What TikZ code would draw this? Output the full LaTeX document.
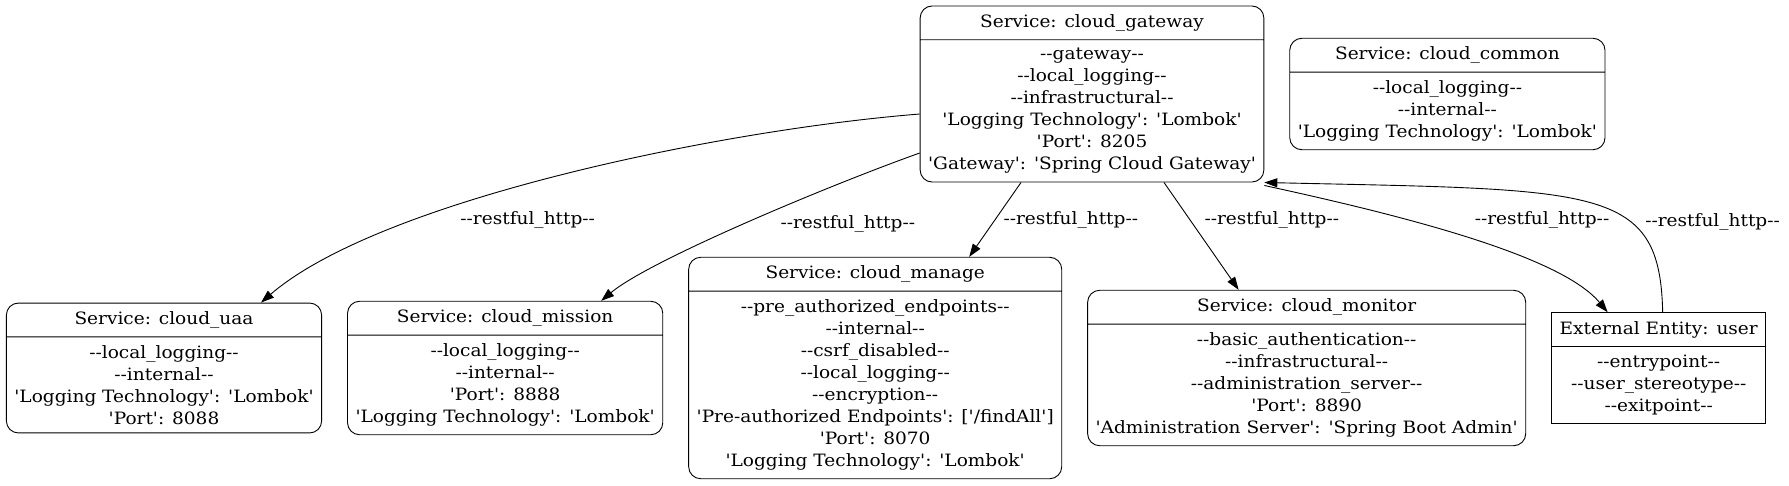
\documentclass[tikz,border=0pt]{standalone}
\usepackage{fontspec}
\setmainfont{DejaVu Serif}[Ligatures=TeXOff, FakeStretch=1.09]
\usepackage{tikz}
\usetikzlibrary{positioning}
\usetikzlibrary{arrows.meta}
\usetikzlibrary{shapes.multipart}

\begin{document}
\begin{tikzpicture}[
		x=1pt, y=-1pt,
		node distance=25pt,
		font=\fontsize{17}{22}\selectfont,
		service/.style={rectangle split, rectangle split parts=2, draw, align=center, rounded corners=12pt, inner xsep=8pt, inner ysep=8pt, line width=0.9pt},
		entity/.style={rectangle split, rectangle split parts=2, draw, align=center, inner xsep=8pt, inner ysep=8pt, line width=0.9pt},
		flow/.style={-{Triangle[length=13pt,width=9pt]}, line width=0.9pt},
		lbl/.style={inner sep=0pt}
		]
		
		\useasboundingbox (0,0) rectangle (1789,485);
		
		% Gateway and common (top row)
		\node[service] (gateway) at (1092,94) {Service: cloud\_gateway
			\nodepart{two} --gateway--\\--local\_logging--\\--infrastructural--\\'Logging Technology': 'Lombok'\\'Port': 8205\\'Gateway': 'Spring Cloud Gateway'};
		\node[service, right=of gateway] (common) {Service: cloud\_common
			\nodepart{two} --local\_logging--\\--internal--\\'Logging Technology': 'Lombok'};
		
		% Services (bottom row)
		\node[service] (uaa) at (164,368) {Service: cloud\_uaa
			\nodepart{two} --local\_logging--\\--internal--\\'Logging Technology': 'Lombok'\\'Port': 8088};
		\node[service, right=of uaa] (mission) {Service: cloud\_mission
			\nodepart{two} --local\_logging--\\--internal--\\'Port': 8888\\'Logging Technology': 'Lombok'};
		\node[service, right=of mission] (manage) {Service: cloud\_manage
			\nodepart{two} --pre\_authorized\_endpoints--\\--internal--\\--csrf\_disabled--\\--local\_logging--\\--encryption--\\'Pre-authorized Endpoints': ['/findAll']\\'Port': 8070\\'Logging Technology': 'Lombok'};
		\node[service, right=of manage] (monitor) {Service: cloud\_monitor
			\nodepart{two} --basic\_authentication--\\--infrastructural--\\--administration\_server--\\'Port': 8890\\'Administration Server': 'Spring Boot Admin'};
		
		% External entity
		\node[entity, right=of monitor] (user) {External Entity: user
			\nodepart{two} --entrypoint--\\--user\_stereotype--\\--exitpoint--};
		
		% Flows
		\draw[flow] ([yshift=-20pt]gateway.west) .. controls (720,130) and (380,200) .. ([xshift=97pt]uaa.north) node[lbl, pos=0.7, right=42pt] {--restful\_http--};
		\draw[flow] ([yshift=-59pt]gateway.west) .. controls (830,185) and (650,260) .. ([xshift=96pt]mission.north) node[lbl, pos=0.5, right=35pt] {--restful\_http--};
		\draw[flow] ([xshift=-71pt]gateway.south) -- ([xshift=94pt]manage.north) node[lbl, pos=0.5, right=8pt] {--restful\_http--};
		\draw[flow] ([xshift=72pt]gateway.south) -- ([xshift=-68pt]monitor.north) node[lbl, pos=0.35, right=14pt] {--restful\_http--};
		\draw[flow] ([yshift=-3pt]gateway.south east) .. controls (1400,215) and (1560,255) .. ([xshift=-51pt]user.north) node[lbl, pos=0.5, xshift=73pt, yshift=18pt] {--restful\_http--};
		\draw[flow] ([xshift=4pt]user.north) .. controls (1660,185) and (1600,190) .. (gateway.south east) node[lbl, pos=0.3, anchor=west, xshift=6pt, yshift=7pt] {--restful\_http--};
		
\end{tikzpicture}
\end{document}
